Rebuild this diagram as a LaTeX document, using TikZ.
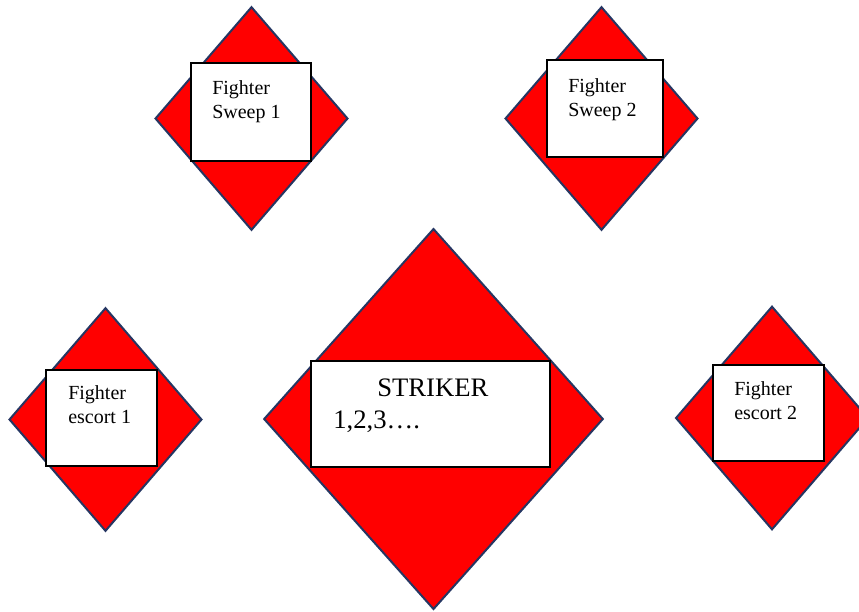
\documentclass[tikz,border=0pt]{standalone}
\usepackage{fontspec}
\setmainfont{Liberation Serif}
\usetikzlibrary{shapes.geometric}
\definecolor{edgeblue}{RGB}{38,54,98}

\begin{document}
\begin{tikzpicture}[x=0.75pt,y=-0.75pt,
    D/.style = {diamond, draw=edgeblue, fill=red, line width=1.5pt,% small red diamonds
                minimum width=144pt, minimum height=167pt,
                inner sep=0pt, outer sep=0pt},
  BIG/.style = {D, minimum width=254pt, minimum height=285pt},
  box/.style = {rectangle, draw=black, fill=white, line width=1.3pt,% white boxes
                inner sep=0pt, outer sep=0pt},
  txt/.style = {anchor=base west, inner sep=0pt, align=left,
                font=\fontsize{15}{18}\selectfont},
                        ]
\useasboundingbox (0,0) rectangle (859,611);
\foreach \n/\x/\y in {sw1/251.5/118.5, sw2/601.5/118.5,
                      es1/105.5/419.5, es2/772/418}% <-- the four fighters
    \node[D] (\n) at (\x,\y) {};
\node[BIG] (st) at (433.5,419) {};
% boxes over the diamonds
\node[box, minimum width=90pt,  minimum height=73.5pt] (sw1box) at (251,112) {};
\node[box, minimum width=87pt,  minimum height=72.75pt] (sw2box) at (605,108.5) {};
\node[box, minimum width=83.25pt, minimum height=72pt] (es1box) at (101.5,418) {};
\node[box, minimum width=83.25pt, minimum height=72pt] (es2box) at (768.5,413) {};
\node[box, minimum width=179.25pt, minimum height=79.5pt] (stbox) at (430.5,414) {};
% texts (base = last line)
\node[txt] (sw1txt) at (212,118) {Fighter\\Sweep 1};
\node[txt] (sw2txt) at (568,116) {Fighter\\Sweep 2};
\node[txt] (es1txt) at (68,423)  {Fighter\\escort 1};
\node[txt] (es2txt) at (734,419) {Fighter\\escort 2};
\node[txt, font=\fontsize{20}{24}\selectfont] (sttxt) at (333,428)
    {\hspace{33pt}STRIKER\\1,2,3….};
\end{tikzpicture}
\end{document}
